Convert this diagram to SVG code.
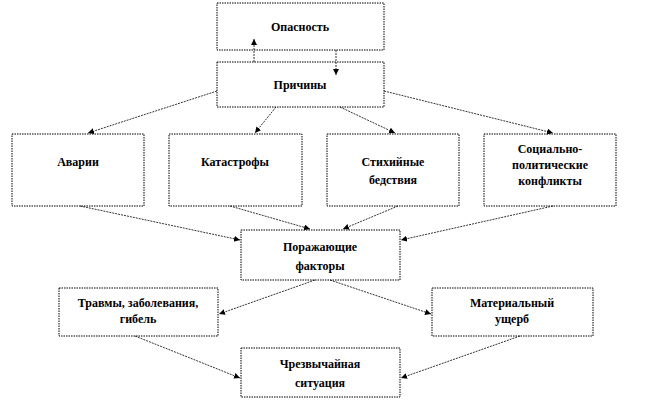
<svg xmlns="http://www.w3.org/2000/svg" width="672" height="411" viewBox="0 0 672 411">
<style>
.b{fill:#fff;stroke:#000;stroke-width:1;stroke-dasharray:1.5 1}
.t{font-family:'Liberation Serif','DejaVu Serif',serif;font-weight:bold;font-size:12px;text-anchor:middle;fill:#000}
.c{stroke:#000;stroke-width:0.8;stroke-dasharray:2 1;fill:none;marker-end:url(#a)}
</style>
<defs><marker id="a" markerWidth="7" markerHeight="7" refX="6" refY="3" orient="auto" markerUnits="userSpaceOnUse"><path d="M0,0L6,3L0,6z" fill="#000"/></marker></defs>
<rect width="672" height="411" fill="#fff"/>
<g id="n1"><rect class="b" x="217" y="3" width="167" height="47"/><text class="t" x="300" y="31">Опасность</text></g>
<g id="n2"><rect class="b" x="217" y="62" width="167" height="45"/><text class="t" x="300" y="89">Причины</text></g>
<g id="n3"><rect class="b" x="12" y="134" width="132" height="72"/><text class="t" x="78" y="166" font-size="10">Аварии</text></g>
<g id="n4"><rect class="b" x="169" y="134" width="133" height="72"/><text class="t" x="235" y="166" font-size="10">Катастрофы</text></g>
<g id="n5"><rect class="b" x="327" y="134" width="132" height="72"/><text class="t" x="393" y="166" font-size="10">Стихийные</text><text class="t" x="393" y="184" font-size="10">бедствия</text></g>
<g id="n6"><rect class="b" x="484" y="134" width="132" height="72"/><text class="t" x="550" y="153" font-size="10">Социально-</text><text class="t" x="550" y="169" font-size="10">политические</text><text class="t" x="550" y="185" font-size="10">конфликты</text></g>
<g id="n7"><rect class="b" x="241" y="230" width="159" height="50"/><text class="t" x="320" y="251">Поражающие</text><text class="t" x="320" y="270">факторы</text></g>
<g id="n8"><rect class="b" x="59" y="288" width="159" height="48"/><text class="t" x="138" y="307" font-size="10">Травмы, заболевания,</text><text class="t" x="138" y="323" font-size="10">гибель</text></g>
<g id="n9"><rect class="b" x="432" y="288" width="161" height="48"/><text class="t" x="512" y="307" font-size="10">Материальный</text><text class="t" x="512" y="323" font-size="10">ущерб</text></g>
<g id="n10"><rect class="b" x="241" y="348" width="159" height="49"/><text class="t" x="320" y="368">Чрезвычайная</text><text class="t" x="320" y="387">ситуация</text></g>
<g id="edges">
<path class="c" d="M254,62V39"/>
<path class="c" d="M336,50V75"/>
<path class="c" d="M217,91L88,133"/>
<path class="c" d="M276,107L255,133"/>
<path class="c" d="M340,107L395,133"/>
<path class="c" d="M384,91L553,133"/>
<path class="c" d="M80,206L240,240"/>
<path class="c" d="M230,206L310,229"/>
<path class="c" d="M398,206L343,229"/>
<path class="c" d="M553,206L401,240"/>
<path class="c" d="M315,280L219,314"/>
<path class="c" d="M330,280L431,314"/>
<path class="c" d="M135,336L240,378"/>
<path class="c" d="M520,336L401,378"/>
</g>
</svg>
